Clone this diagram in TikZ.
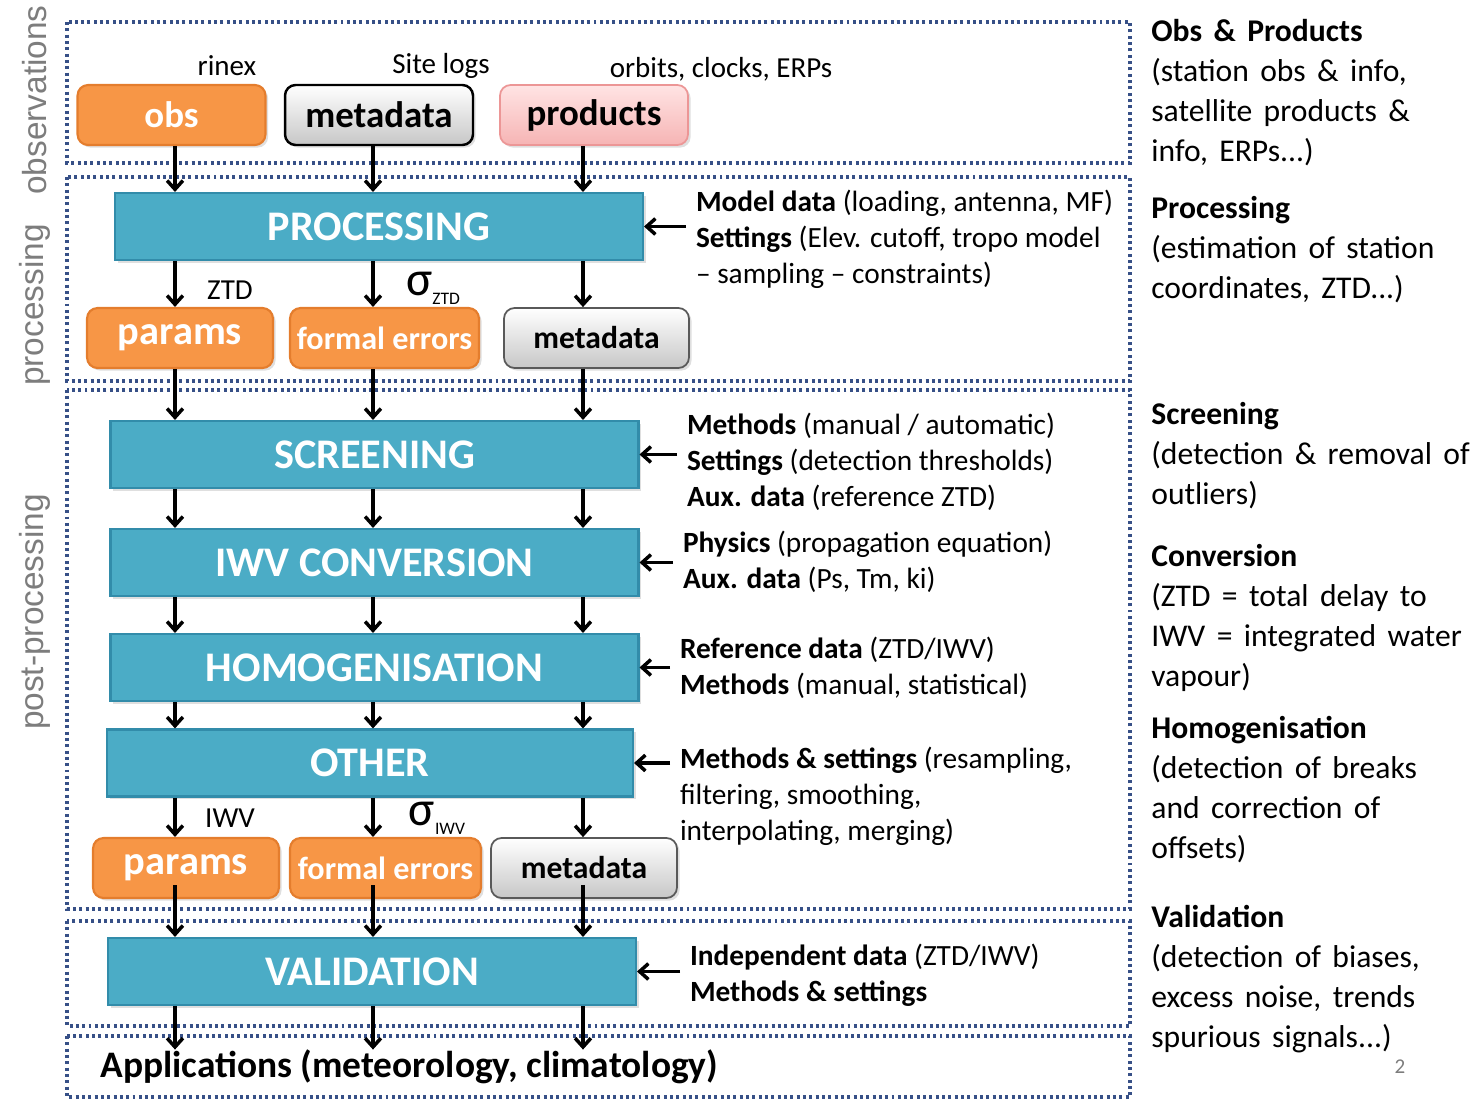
\documentclass[tikz,border=0pt]{standalone}
\usepackage{fontspec}
\setmainfont{Carlito}
\newfontfamily\phasefont{Liberation Sans}
\usetikzlibrary{shadows,arrows.meta}
\definecolor{zoneblue}{RGB}{55,80,135}
\definecolor{stageblue}{RGB}{75,172,198}
\definecolor{stageedge}{RGB}{50,140,170}
\definecolor{obsorange}{RGB}{247,150,70}
\definecolor{orangeedge}{RGB}{228,125,45}
\definecolor{pinktop}{RGB}{255,228,228}
\definecolor{pinkbottom}{RGB}{246,180,180}
\definecolor{pinkedge}{RGB}{236,150,150}
\definecolor{phasegray}{RGB}{125,125,125}
\newcommand{\setfs}[2]{\fontsize{#1}{#2}\selectfont}
\newcommand{\widespaces}{\spaceskip=0.36em plus 0.1em\relax}

\begin{document}
\begin{tikzpicture}[x=0.02cm, y=-0.02cm,
  zone/.style={draw=zoneblue, line width=1.8pt, dash pattern=on 1.7pt off 1.9pt},
  stagebox/.style={draw=stageedge, line width=1.2pt, fill=stageblue, minimum width=10.56cm,
    minimum height=1.34cm, text=white, font=\setfs{24}{28}\bfseries,
    drop shadow={opacity=0.25, shadow xshift=1.5pt, shadow yshift=-1.5pt}},
  orangebox/.style={draw=orangeedge, line width=1.2pt, fill=obsorange, rounded corners=6pt,
    minimum height=1.2cm, text=white, inner xsep=2pt,
    drop shadow={opacity=0.25, shadow xshift=1.5pt, shadow yshift=-1.5pt}},
  metabox/.style={draw=black!65, line width=1pt, top color=white, bottom color=black!22,
    rounded corners=6pt, minimum height=1.2cm, inner xsep=2pt,
    drop shadow={opacity=0.25, shadow xshift=1.5pt, shadow yshift=-1.5pt}},
  flow/.style={-{Straight Barb[length=5pt,width=9pt]}, line width=2pt, black},
  remark/.style={anchor=north west, align=left, inner xsep=5.5pt, inner ysep=0pt, font=\setfs{16.7}{20.4}},
  summary/.style={anchor=north west, align=left, inner sep=0pt, font=\setfs{18}{22.7}\widespaces},
  tag/.style={font=\setfs{16.5}{18}},
  phase/.style={rotate=90, text=phasegray, font=\phasefont\setfs{19}{22}}]
  \useasboundingbox (0,0) rectangle (1478,1099);

  % Dotted zones
  \draw[zone] (67,22) rectangle (1130,163);
  \draw[zone] (67,177) rectangle (1130,381);
  \draw[zone] (67,390) rectangle (1130,909);
  \draw[zone] (67,921) rectangle (1130,1026);
  \draw[zone] (67,1036) rectangle (1130,1097);

  % Phase labels
  \node[phase] (phobs) at (35,100) {observations};
  \node[phase] (phproc) at (35,305) {processing};
  \node[phase] (phpost) at (35,612) {post-processing};

  % Observations
  \node[orangebox, minimum width=3.76cm, font=\setfs{21}{24}\bfseries] (obs) at (171.5,115) {obs};
  \node[metabox, draw=black, line width=1.4pt, minimum width=3.76cm, font=\setfs{21}{24}\bfseries] (meta) at (379,115) {metadata};
  \node[metabox, draw=pinkedge, top color=pinktop, bottom color=pinkbottom, minimum width=3.76cm,
    font=\setfs{21}{24}\bfseries] (prod) at (594,115) {products};
  \node[tag] (rinex) at (227,66) {rinex};
  \node[tag] (logs) at (441,66) {Site logs};
  \node[tag] (orbits) at (721,69) {orbits, clocks, ERPs};

  % Stages
  \node[stagebox] (proc) at (379,226.5) {PROCESSING};
  \node[stagebox] (scr) at (374.5,454.5) {SCREENING};
  \node[stagebox] (iwv) at (374.5,562.5) {IWV CONVERSION};
  \node[stagebox] (hom) at (374.5,667.5) {HOMOGENISATION};
  \node[stagebox, minimum width=10.52cm] (oth) at (370,763) {OTHER};
  \node[stagebox] (val) at (372,971.5) {VALIDATION};

  % Processing outputs
  \node[orangebox, minimum width=3.72cm, font=\setfs{23}{26}\bfseries] (par1) at (180,338) {params};
  \node[orangebox, minimum width=3.78cm, font=\setfs{18.3}{22}\bfseries] (err1) at (384.5,338) {formal errors};
  \node[metabox, minimum width=3.7cm, font=\setfs{18}{22}\bfseries] (meta1) at (596.5,338) {metadata};
  \node[tag] (ztd) at (230,290) {ZTD};
  \node (sigztd) at (433,288) {{\setfs{28}{28}σ}\raisebox{-5pt}{\setfs{10}{10}ZTD}};

  % Post-processing outputs
  \node[orangebox, minimum width=3.72cm, font=\setfs{23}{26}\bfseries] (par2) at (186,868) {params};
  \node[orangebox, minimum width=3.82cm, font=\setfs{18.3}{22}\bfseries] (err2) at (385.5,868) {formal errors};
  \node[metabox, minimum width=3.72cm, font=\setfs{18}{22}\bfseries] (meta2) at (584,868) {metadata};
  \node[tag] (iwvlab) at (230,818) {IWV};
  \node (sigiwv) at (437,818) {{\setfs{28}{28}σ}\raisebox{-5pt}{\setfs{10}{10}IWV}};

  % Applications
  \node[anchor=west, inner xsep=0pt, inner ysep=0pt, font=\setfs{21.3}{24}\bfseries] (app) at (100,1067)
    {Applications (meteorology, climatology)};

  % Inputs to the stages
  \node[remark] (mdl) at (686,190) {\textbf{Model data} (loading, antenna, MF)\\
    \textbf{Settings} (Elev. cutoff, tropo model\\ -- sampling -- constraints)};
  \node[remark] (scrin) at (677,413) {\textbf{Methods} (manual / automatic)\\
    \textbf{Settings} (detection thresholds)\\ \textbf{Aux. data} (reference ZTD)};
  \node[remark] (iwvin) at (673,531) {\textbf{Physics} (propagation equation)\\
    \textbf{Aux. data} (Ps, Tm, ki)};
  \node[remark] (homin) at (670,637) {\textbf{Reference data} (ZTD/IWV)\\
    \textbf{Methods} (manual, statistical)};
  \node[remark] (othin) at (670,747) {\textbf{Methods \& settings} (resampling,\\
    filtering, smoothing,\\ interpolating, merging)};
  \node[remark] (valin) at (680,944) {\textbf{Independent data} (ZTD/IWV)\\
    \textbf{Methods \& settings}};

  % Summary column
  \node[summary] (sobs) at (1151,19) {\textbf{Obs \& Products}\\ (station obs \& info,\\
    satellite products \&\\ info, ERPs...)};
  \node[summary] (sproc) at (1151,196) {\textbf{Processing}\\ (estimation of station\\
    coordinates, ZTD...)};
  \node[summary] (sscr) at (1151,402) {\textbf{Screening}\\ (detection \& removal of\\ outliers)};
  \node[summary] (sconv) at (1151,544) {\textbf{Conversion}\\ (ZTD = total delay to\\
    IWV = integrated water\\ vapour)};
  \node[summary] (shom) at (1151,716) {\textbf{Homogenisation}\\ (detection of breaks\\
    and correction of\\ offsets)};
  \node[summary] (sval) at (1151,905) {\textbf{Validation}\\ (detection of biases,\\
    excess noise, trends\\ spurious signals...)};
  \node[text=phasegray, font=\setfs{12}{14}] (pagenum) at (1400,1067) {2};

  % Columns of the flow
  \coordinate (col1) at (175,0);
  \coordinate (col2) at (373,0);
  \coordinate (col3) at (583,0);

  % Arrows
  \foreach \c/\b in {col1/obs,col2/meta,col3/prod} {
    \draw[flow] (\c |- \b.south) -- (\c |- proc.north);
  }
  \foreach \c/\b in {col1/par1,col2/err1,col3/meta1} {
    \draw[flow] (\c |- proc.south) -- (\c |- \b.north);
    \draw[flow] (\c |- \b.south) -- (\c |- scr.north);
  }
  \foreach \u/\v in {scr/iwv,iwv/hom,hom/oth} {
    \foreach \c in {col1,col2,col3} {
      \draw[flow] (\c |- \u.south) -- (\c |- \v.north);
    }
  }
  \foreach \c/\b in {col1/par2,col2/err2,col3/meta2} {
    \draw[flow] (\c |- oth.south) -- (\c |- \b.north);
    \draw[flow, shorten <=-8pt] (\c |- \b.south) -- (\c |- val.north);
    \draw[flow] (\c |- val.south) -- (\c |- app.north);
  }
  \foreach \s/\r in {proc/mdl,scr/scrin,iwv/iwvin,hom/homin,oth/othin,val/valin} {
    \draw[flow] (\s.east -| \r.west) -- (\s.east);
  }
\end{tikzpicture}
\end{document}
